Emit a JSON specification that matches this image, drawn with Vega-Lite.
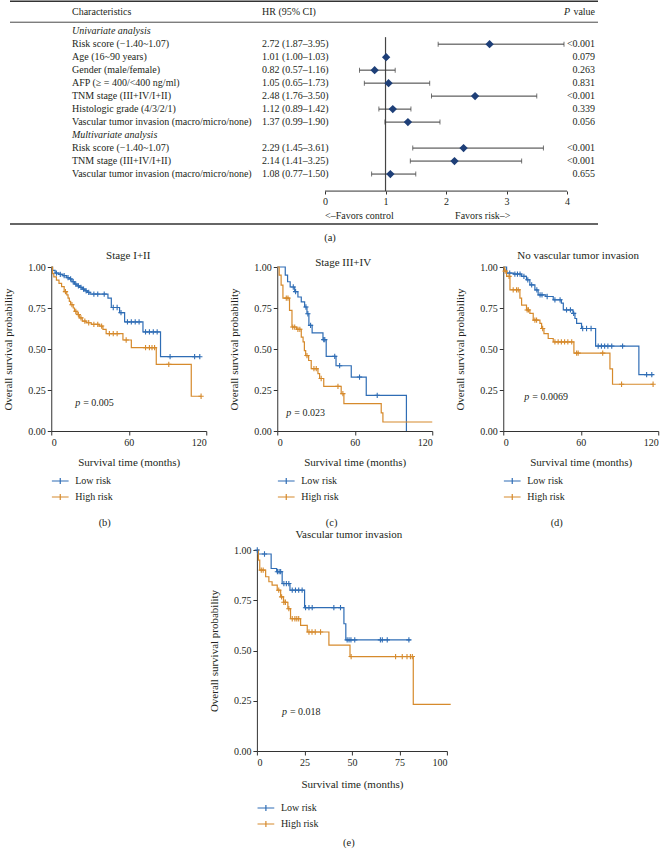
{
"$schema":"https://vega.github.io/schema/vega-lite/v6.json",
"padding":{"left":2,"top":0,"right":0,"bottom":0},
"background":"white",
"config":{"view":{"stroke":null},"font":"Liberation Serif",
"axis":{"labelFont":"Liberation Serif","titleFont":"Liberation Serif","labelFontSize":10,"titleFontSize":11,"titleFontWeight":"normal","domainColor":"#333333","tickColor":"#333333","labelColor":"#231f20","titleColor":"#231f20","grid":false,"tickSize":4,"labelPadding":2,"domainWidth":1},
"legend":{"labelFont":"Liberation Serif","labelFontSize":10,"labelColor":"#231f20"},
"title":{"font":"Liberation Serif","fontWeight":"normal","fontSize":11,"color":"#231f20"},
"text":{"font":"Liberation Serif","color":"#231f20","fontSize":10}},
"datasets":{
"forest":[
{"row":1,"label":"Univariate analysis","sec":true},
{"row":2,"label":"Risk score (−1.40~1.07)","ci":"2.72 (1.87–3.95)","hr":2.72,"lo":1.87,"hi":3.95,"p":"<0.001","sec":false},
{"row":3,"label":"Age (16~90 years)","ci":"1.01 (1.00–1.03)","hr":1.01,"lo":1.00,"hi":1.03,"p":"0.079","sec":false},
{"row":4,"label":"Gender (male/female)","ci":"0.82 (0.57–1.16)","hr":0.82,"lo":0.57,"hi":1.16,"p":"0.263","sec":false},
{"row":5,"label":"AFP (≥ = 400/<400 ng/ml)","ci":"1.05 (0.65–1.73)","hr":1.05,"lo":0.65,"hi":1.73,"p":"0.831","sec":false},
{"row":6,"label":"TNM stage (III+IV/I+II)","ci":"2.48 (1.76–3.50)","hr":2.48,"lo":1.76,"hi":3.50,"p":"<0.001","sec":false},
{"row":7,"label":"Histologic grade (4/3/2/1)","ci":"1.12 (0.89–1.42)","hr":1.12,"lo":0.89,"hi":1.42,"p":"0.339","sec":false},
{"row":8,"label":"Vascular tumor invasion (macro/micro/none)","ci":"1.37 (0.99–1.90)","hr":1.37,"lo":0.99,"hi":1.90,"p":"0.056","sec":false},
{"row":9,"label":"Multivariate analysis","sec":true},
{"row":10,"label":"Risk score (−1.40~1.07)","ci":"2.29 (1.45–3.61)","hr":2.29,"lo":1.45,"hi":3.61,"p":"<0.001","sec":false},
{"row":11,"label":"TNM stage (III+IV/I+II)","ci":"2.14 (1.41–3.25)","hr":2.14,"lo":1.41,"hi":3.25,"p":"<0.001","sec":false},
{"row":12,"label":"Vascular tumor invasion (macro/micro/none)","ci":"1.08 (0.77–1.50)","hr":1.08,"lo":0.77,"hi":1.50,"p":"0.655","sec":false}
],
"pv":[
{"panel":"b","sym":"p","val":"= 0.005","title":"Stage I+II"},
{"panel":"c","sym":"p","val":"= 0.023","title":"Stage III+IV"},
{"panel":"d","sym":"p","val":"= 0.0069","title":"No vascular tumor invasion"},
{"panel":"e","sym":"p","val":"= 0.018","title":"Vascular tumor invasion"}
],
"km":[
{"panel":"b","g":"Low risk","k":"s","t":0,"s":1},{"panel":"b","g":"Low risk","k":"s","t":1,"s":0.98},{"panel":"b","g":"Low risk","k":"s","t":3,"s":0.963},{"panel":"b","g":"Low risk","k":"s","t":6,"s":0.955},{"panel":"b","g":"Low risk","k":"s","t":9,"s":0.947},{"panel":"b","g":"Low risk","k":"s","t":12,"s":0.935},{"panel":"b","g":"Low risk","k":"s","t":14,"s":0.927},{"panel":"b","g":"Low risk","k":"s","t":16,"s":0.91},{"panel":"b","g":"Low risk","k":"s","t":18,"s":0.896},{"panel":"b","g":"Low risk","k":"s","t":20,"s":0.885},{"panel":"b","g":"Low risk","k":"s","t":22,"s":0.876},{"panel":"b","g":"Low risk","k":"s","t":24,"s":0.865},{"panel":"b","g":"Low risk","k":"s","t":26,"s":0.855},{"panel":"b","g":"Low risk","k":"s","t":28,"s":0.845},{"panel":"b","g":"Low risk","k":"s","t":30,"s":0.835},{"panel":"b","g":"Low risk","k":"s","t":43.9,"s":0.81},{"panel":"b","g":"Low risk","k":"s","t":46.5,"s":0.753},{"panel":"b","g":"Low risk","k":"s","t":52.9,"s":0.722},{"panel":"b","g":"Low risk","k":"s","t":56.8,"s":0.665},{"panel":"b","g":"Low risk","k":"s","t":71,"s":0.604},{"panel":"b","g":"Low risk","k":"s","t":84.6,"s":0.453},{"panel":"b","g":"Low risk","k":"s","t":115,"s":0.453},
{"panel":"b","g":"Low risk","k":"c","t":4,"s":0.963},{"panel":"b","g":"Low risk","k":"c","t":7,"s":0.955},{"panel":"b","g":"Low risk","k":"c","t":10,"s":0.947},{"panel":"b","g":"Low risk","k":"c","t":13,"s":0.935},{"panel":"b","g":"Low risk","k":"c","t":15,"s":0.927},{"panel":"b","g":"Low risk","k":"c","t":17,"s":0.91},{"panel":"b","g":"Low risk","k":"c","t":19,"s":0.896},{"panel":"b","g":"Low risk","k":"c","t":21,"s":0.885},{"panel":"b","g":"Low risk","k":"c","t":23,"s":0.876},{"panel":"b","g":"Low risk","k":"c","t":25,"s":0.865},{"panel":"b","g":"Low risk","k":"c","t":27,"s":0.855},{"panel":"b","g":"Low risk","k":"c","t":29,"s":0.845},{"panel":"b","g":"Low risk","k":"c","t":33,"s":0.835},{"panel":"b","g":"Low risk","k":"c","t":36,"s":0.835},{"panel":"b","g":"Low risk","k":"c","t":41,"s":0.835},{"panel":"b","g":"Low risk","k":"c","t":48,"s":0.753},{"panel":"b","g":"Low risk","k":"c","t":51,"s":0.753},{"panel":"b","g":"Low risk","k":"c","t":54,"s":0.722},{"panel":"b","g":"Low risk","k":"c","t":59,"s":0.665},{"panel":"b","g":"Low risk","k":"c","t":62,"s":0.665},{"panel":"b","g":"Low risk","k":"c","t":65,"s":0.665},{"panel":"b","g":"Low risk","k":"c","t":68,"s":0.665},{"panel":"b","g":"Low risk","k":"c","t":73,"s":0.604},{"panel":"b","g":"Low risk","k":"c","t":76,"s":0.604},{"panel":"b","g":"Low risk","k":"c","t":79,"s":0.604},{"panel":"b","g":"Low risk","k":"c","t":82,"s":0.604},{"panel":"b","g":"Low risk","k":"c","t":92,"s":0.453},{"panel":"b","g":"Low risk","k":"c","t":111,"s":0.453},{"panel":"b","g":"Low risk","k":"c","t":115,"s":0.453},
{"panel":"b","g":"High risk","k":"s","t":0,"s":1},{"panel":"b","g":"High risk","k":"s","t":1,"s":0.96},{"panel":"b","g":"High risk","k":"s","t":2,"s":0.94},{"panel":"b","g":"High risk","k":"s","t":4,"s":0.92},{"panel":"b","g":"High risk","k":"s","t":6,"s":0.9},{"panel":"b","g":"High risk","k":"s","t":8,"s":0.88},{"panel":"b","g":"High risk","k":"s","t":10,"s":0.85},{"panel":"b","g":"High risk","k":"s","t":12,"s":0.83},{"panel":"b","g":"High risk","k":"s","t":13,"s":0.81},{"panel":"b","g":"High risk","k":"s","t":14,"s":0.79},{"panel":"b","g":"High risk","k":"s","t":15,"s":0.77},{"panel":"b","g":"High risk","k":"s","t":17,"s":0.75},{"panel":"b","g":"High risk","k":"s","t":18,"s":0.73},{"panel":"b","g":"High risk","k":"s","t":20,"s":0.71},{"panel":"b","g":"High risk","k":"s","t":22,"s":0.69},{"panel":"b","g":"High risk","k":"s","t":24,"s":0.67},{"panel":"b","g":"High risk","k":"s","t":27,"s":0.66},{"panel":"b","g":"High risk","k":"s","t":31,"s":0.65},{"panel":"b","g":"High risk","k":"s","t":37,"s":0.64},{"panel":"b","g":"High risk","k":"s","t":40,"s":0.62},{"panel":"b","g":"High risk","k":"s","t":42.5,"s":0.594},{"panel":"b","g":"High risk","k":"s","t":55.5,"s":0.555},{"panel":"b","g":"High risk","k":"s","t":62,"s":0.508},{"panel":"b","g":"High risk","k":"s","t":81.3,"s":0.406},{"panel":"b","g":"High risk","k":"s","t":108.4,"s":0.212},{"panel":"b","g":"High risk","k":"s","t":116,"s":0.212},
{"panel":"b","g":"High risk","k":"c","t":11,"s":0.85},{"panel":"b","g":"High risk","k":"c","t":16,"s":0.77},{"panel":"b","g":"High risk","k":"c","t":19,"s":0.73},{"panel":"b","g":"High risk","k":"c","t":21,"s":0.71},{"panel":"b","g":"High risk","k":"c","t":23,"s":0.69},{"panel":"b","g":"High risk","k":"c","t":26,"s":0.67},{"panel":"b","g":"High risk","k":"c","t":29,"s":0.66},{"panel":"b","g":"High risk","k":"c","t":33,"s":0.65},{"panel":"b","g":"High risk","k":"c","t":36,"s":0.65},{"panel":"b","g":"High risk","k":"c","t":39,"s":0.64},{"panel":"b","g":"High risk","k":"c","t":45,"s":0.594},{"panel":"b","g":"High risk","k":"c","t":48,"s":0.594},{"panel":"b","g":"High risk","k":"c","t":51,"s":0.594},{"panel":"b","g":"High risk","k":"c","t":58,"s":0.555},{"panel":"b","g":"High risk","k":"c","t":73,"s":0.508},{"panel":"b","g":"High risk","k":"c","t":76,"s":0.508},{"panel":"b","g":"High risk","k":"c","t":78,"s":0.508},{"panel":"b","g":"High risk","k":"c","t":80,"s":0.508},{"panel":"b","g":"High risk","k":"c","t":91,"s":0.406},{"panel":"b","g":"High risk","k":"c","t":116,"s":0.212},
{"panel":"c","g":"Low risk","k":"s","t":0,"s":1},{"panel":"c","g":"Low risk","k":"s","t":6.2,"s":0.95},{"panel":"c","g":"Low risk","k":"s","t":8,"s":0.91},{"panel":"c","g":"Low risk","k":"s","t":10,"s":0.878},{"panel":"c","g":"Low risk","k":"s","t":13.5,"s":0.85},{"panel":"c","g":"Low risk","k":"s","t":16,"s":0.817},{"panel":"c","g":"Low risk","k":"s","t":18.6,"s":0.787},{"panel":"c","g":"Low risk","k":"s","t":21.2,"s":0.756},{"panel":"c","g":"Low risk","k":"s","t":23,"s":0.715},{"panel":"c","g":"Low risk","k":"s","t":24.5,"s":0.644},{"panel":"c","g":"Low risk","k":"s","t":27,"s":0.598},{"panel":"c","g":"Low risk","k":"s","t":35.4,"s":0.557},{"panel":"c","g":"Low risk","k":"s","t":37.9,"s":0.455},{"panel":"c","g":"Low risk","k":"s","t":45.5,"s":0.398},{"panel":"c","g":"Low risk","k":"s","t":57.3,"s":0.329},{"panel":"c","g":"Low risk","k":"s","t":68.9,"s":0.217},{"panel":"c","g":"Low risk","k":"s","t":100,"s":0},
{"panel":"c","g":"Low risk","k":"c","t":12.4,"s":0.878},{"panel":"c","g":"Low risk","k":"c","t":14.2,"s":0.85},{"panel":"c","g":"Low risk","k":"c","t":22.2,"s":0.756},{"panel":"c","g":"Low risk","k":"c","t":23.7,"s":0.715},{"panel":"c","g":"Low risk","k":"c","t":25.8,"s":0.644},{"panel":"c","g":"Low risk","k":"c","t":36,"s":0.557},{"panel":"c","g":"Low risk","k":"c","t":36.8,"s":0.557},{"panel":"c","g":"Low risk","k":"c","t":44.5,"s":0.455},{"panel":"c","g":"Low risk","k":"c","t":48.3,"s":0.398},{"panel":"c","g":"Low risk","k":"c","t":63.7,"s":0.329},{"panel":"c","g":"Low risk","k":"c","t":77.4,"s":0.217},
{"panel":"c","g":"High risk","k":"s","t":0,"s":1},{"panel":"c","g":"High risk","k":"s","t":1.5,"s":0.95},{"panel":"c","g":"High risk","k":"s","t":3,"s":0.89},{"panel":"c","g":"High risk","k":"s","t":4.4,"s":0.81},{"panel":"c","g":"High risk","k":"s","t":9.5,"s":0.736},{"panel":"c","g":"High risk","k":"s","t":11.4,"s":0.634},{"panel":"c","g":"High risk","k":"s","t":15,"s":0.62},{"panel":"c","g":"High risk","k":"s","t":18.6,"s":0.573},{"panel":"c","g":"High risk","k":"s","t":20,"s":0.543},{"panel":"c","g":"High risk","k":"s","t":21,"s":0.49},{"panel":"c","g":"High risk","k":"s","t":22,"s":0.46},{"panel":"c","g":"High risk","k":"s","t":24.3,"s":0.43},{"panel":"c","g":"High risk","k":"s","t":26.3,"s":0.38},{"panel":"c","g":"High risk","k":"s","t":31.5,"s":0.35},{"panel":"c","g":"High risk","k":"s","t":32.8,"s":0.32},{"panel":"c","g":"High risk","k":"s","t":36,"s":0.272},{"panel":"c","g":"High risk","k":"s","t":49.5,"s":0.228},{"panel":"c","g":"High risk","k":"s","t":51.6,"s":0.167},{"panel":"c","g":"High risk","k":"s","t":80.5,"s":0.11},{"panel":"c","g":"High risk","k":"s","t":81.8,"s":0.055},{"panel":"c","g":"High risk","k":"s","t":120,"s":0.055},
{"panel":"c","g":"High risk","k":"c","t":7,"s":0.81},{"panel":"c","g":"High risk","k":"c","t":8.3,"s":0.81},{"panel":"c","g":"High risk","k":"c","t":12,"s":0.634},{"panel":"c","g":"High risk","k":"c","t":13.5,"s":0.634},{"panel":"c","g":"High risk","k":"c","t":16,"s":0.62},{"panel":"c","g":"High risk","k":"c","t":17.5,"s":0.62},{"panel":"c","g":"High risk","k":"c","t":23,"s":0.46},{"panel":"c","g":"High risk","k":"c","t":28.4,"s":0.38},{"panel":"c","g":"High risk","k":"c","t":30.2,"s":0.38},{"panel":"c","g":"High risk","k":"c","t":34,"s":0.32},{"panel":"c","g":"High risk","k":"c","t":47,"s":0.272},{"panel":"c","g":"High risk","k":"c","t":50.8,"s":0.228},
{"panel":"d","g":"Low risk","k":"s","t":0,"s":1},{"panel":"d","g":"Low risk","k":"s","t":2.6,"s":0.963},{"panel":"d","g":"Low risk","k":"s","t":8,"s":0.957},{"panel":"d","g":"Low risk","k":"s","t":14.2,"s":0.943},{"panel":"d","g":"Low risk","k":"s","t":18,"s":0.922},{"panel":"d","g":"Low risk","k":"s","t":20.6,"s":0.891},{"panel":"d","g":"Low risk","k":"s","t":24.5,"s":0.86},{"panel":"d","g":"Low risk","k":"s","t":27,"s":0.83},{"panel":"d","g":"Low risk","k":"s","t":33,"s":0.82},{"panel":"d","g":"Low risk","k":"s","t":38.7,"s":0.8},{"panel":"d","g":"Low risk","k":"s","t":45,"s":0.78},{"panel":"d","g":"Low risk","k":"s","t":46.5,"s":0.738},{"panel":"d","g":"Low risk","k":"s","t":54,"s":0.717},{"panel":"d","g":"Low risk","k":"s","t":55.5,"s":0.686},{"panel":"d","g":"Low risk","k":"s","t":56.8,"s":0.656},{"panel":"d","g":"Low risk","k":"s","t":60.6,"s":0.625},{"panel":"d","g":"Low risk","k":"s","t":71.5,"s":0.518},{"panel":"d","g":"Low risk","k":"s","t":105,"s":0.344},{"panel":"d","g":"Low risk","k":"s","t":116,"s":0.344},
{"panel":"d","g":"Low risk","k":"c","t":5,"s":0.963},{"panel":"d","g":"Low risk","k":"c","t":9,"s":0.957},{"panel":"d","g":"Low risk","k":"c","t":11,"s":0.957},{"panel":"d","g":"Low risk","k":"c","t":13,"s":0.957},{"panel":"d","g":"Low risk","k":"c","t":16,"s":0.943},{"panel":"d","g":"Low risk","k":"c","t":19,"s":0.922},{"panel":"d","g":"Low risk","k":"c","t":22,"s":0.891},{"panel":"d","g":"Low risk","k":"c","t":26,"s":0.86},{"panel":"d","g":"Low risk","k":"c","t":28.5,"s":0.83},{"panel":"d","g":"Low risk","k":"c","t":30,"s":0.83},{"panel":"d","g":"Low risk","k":"c","t":34,"s":0.82},{"panel":"d","g":"Low risk","k":"c","t":40,"s":0.8},{"panel":"d","g":"Low risk","k":"c","t":44,"s":0.8},{"panel":"d","g":"Low risk","k":"c","t":49,"s":0.738},{"panel":"d","g":"Low risk","k":"c","t":52,"s":0.738},{"panel":"d","g":"Low risk","k":"c","t":54.5,"s":0.717},{"panel":"d","g":"Low risk","k":"c","t":61.5,"s":0.625},{"panel":"d","g":"Low risk","k":"c","t":64.5,"s":0.625},{"panel":"d","g":"Low risk","k":"c","t":68,"s":0.625},{"panel":"d","g":"Low risk","k":"c","t":73.5,"s":0.518},{"panel":"d","g":"Low risk","k":"c","t":76,"s":0.518},{"panel":"d","g":"Low risk","k":"c","t":78.5,"s":0.518},{"panel":"d","g":"Low risk","k":"c","t":81,"s":0.518},{"panel":"d","g":"Low risk","k":"c","t":84,"s":0.518},{"panel":"d","g":"Low risk","k":"c","t":92.4,"s":0.518},{"panel":"d","g":"Low risk","k":"c","t":111,"s":0.344},{"panel":"d","g":"Low risk","k":"c","t":115,"s":0.344},
{"panel":"d","g":"High risk","k":"s","t":0,"s":1},{"panel":"d","g":"High risk","k":"s","t":1,"s":0.975},{"panel":"d","g":"High risk","k":"s","t":2.6,"s":0.943},{"panel":"d","g":"High risk","k":"s","t":5.2,"s":0.861},{"panel":"d","g":"High risk","k":"s","t":12.9,"s":0.81},{"panel":"d","g":"High risk","k":"s","t":14.2,"s":0.768},{"panel":"d","g":"High risk","k":"s","t":18,"s":0.738},{"panel":"d","g":"High risk","k":"s","t":20.6,"s":0.717},{"panel":"d","g":"High risk","k":"s","t":23.2,"s":0.676},{"panel":"d","g":"High risk","k":"s","t":28.4,"s":0.656},{"panel":"d","g":"High risk","k":"s","t":29.7,"s":0.625},{"panel":"d","g":"High risk","k":"s","t":31.5,"s":0.594},{"panel":"d","g":"High risk","k":"s","t":34.8,"s":0.564},{"panel":"d","g":"High risk","k":"s","t":38.7,"s":0.543},{"panel":"d","g":"High risk","k":"s","t":54.7,"s":0.475},{"panel":"d","g":"High risk","k":"s","t":82.6,"s":0.379},{"panel":"d","g":"High risk","k":"s","t":84.6,"s":0.285},{"panel":"d","g":"High risk","k":"s","t":116,"s":0.285},
{"panel":"d","g":"High risk","k":"c","t":1.5,"s":0.975},{"panel":"d","g":"High risk","k":"c","t":4.5,"s":0.943},{"panel":"d","g":"High risk","k":"c","t":7.7,"s":0.861},{"panel":"d","g":"High risk","k":"c","t":10.3,"s":0.861},{"panel":"d","g":"High risk","k":"c","t":11.6,"s":0.861},{"panel":"d","g":"High risk","k":"c","t":18.5,"s":0.738},{"panel":"d","g":"High risk","k":"c","t":19.5,"s":0.738},{"panel":"d","g":"High risk","k":"c","t":24.5,"s":0.676},{"panel":"d","g":"High risk","k":"c","t":25.8,"s":0.676},{"panel":"d","g":"High risk","k":"c","t":30.5,"s":0.625},{"panel":"d","g":"High risk","k":"c","t":40,"s":0.543},{"panel":"d","g":"High risk","k":"c","t":42.5,"s":0.543},{"panel":"d","g":"High risk","k":"c","t":45,"s":0.543},{"panel":"d","g":"High risk","k":"c","t":47.5,"s":0.543},{"panel":"d","g":"High risk","k":"c","t":50,"s":0.543},{"panel":"d","g":"High risk","k":"c","t":53,"s":0.543},{"panel":"d","g":"High risk","k":"c","t":56.8,"s":0.475},{"panel":"d","g":"High risk","k":"c","t":58,"s":0.475},{"panel":"d","g":"High risk","k":"c","t":77,"s":0.475},{"panel":"d","g":"High risk","k":"c","t":91.6,"s":0.285},{"panel":"d","g":"High risk","k":"c","t":116,"s":0.285},
{"panel":"e","g":"Low risk","k":"s","t":0,"s":1},{"panel":"e","g":"Low risk","k":"s","t":0.5,"s":0.98},{"panel":"e","g":"Low risk","k":"s","t":7.5,"s":0.908},{"panel":"e","g":"Low risk","k":"s","t":10.4,"s":0.892},{"panel":"e","g":"Low risk","k":"s","t":13.3,"s":0.833},{"panel":"e","g":"Low risk","k":"s","t":17.4,"s":0.8},{"panel":"e","g":"Low risk","k":"s","t":25.1,"s":0.713},{"panel":"e","g":"Low risk","k":"s","t":45.8,"s":0.633},{"panel":"e","g":"Low risk","k":"s","t":46.8,"s":0.553},{"panel":"e","g":"Low risk","k":"s","t":80.9,"s":0.553},
{"panel":"e","g":"Low risk","k":"c","t":0.2,"s":1},{"panel":"e","g":"Low risk","k":"c","t":4,"s":0.98},{"panel":"e","g":"Low risk","k":"c","t":10.8,"s":0.892},{"panel":"e","g":"Low risk","k":"c","t":11.7,"s":0.892},{"panel":"e","g":"Low risk","k":"c","t":12.5,"s":0.892},{"panel":"e","g":"Low risk","k":"c","t":14.2,"s":0.833},{"panel":"e","g":"Low risk","k":"c","t":15.5,"s":0.833},{"panel":"e","g":"Low risk","k":"c","t":16.8,"s":0.833},{"panel":"e","g":"Low risk","k":"c","t":18.6,"s":0.8},{"panel":"e","g":"Low risk","k":"c","t":20.3,"s":0.8},{"panel":"e","g":"Low risk","k":"c","t":22,"s":0.8},{"panel":"e","g":"Low risk","k":"c","t":23.8,"s":0.8},{"panel":"e","g":"Low risk","k":"c","t":25.6,"s":0.713},{"panel":"e","g":"Low risk","k":"c","t":27.4,"s":0.713},{"panel":"e","g":"Low risk","k":"c","t":29.1,"s":0.713},{"panel":"e","g":"Low risk","k":"c","t":40.5,"s":0.713},{"panel":"e","g":"Low risk","k":"c","t":44,"s":0.713},{"panel":"e","g":"Low risk","k":"c","t":47.5,"s":0.553},{"panel":"e","g":"Low risk","k":"c","t":48.5,"s":0.553},{"panel":"e","g":"Low risk","k":"c","t":49.5,"s":0.553},{"panel":"e","g":"Low risk","k":"c","t":51.5,"s":0.553},{"panel":"e","g":"Low risk","k":"c","t":65,"s":0.553},{"panel":"e","g":"Low risk","k":"c","t":66,"s":0.553},{"panel":"e","g":"Low risk","k":"c","t":68.6,"s":0.553},{"panel":"e","g":"Low risk","k":"c","t":80,"s":0.553},
{"panel":"e","g":"High risk","k":"s","t":0,"s":1},{"panel":"e","g":"High risk","k":"s","t":0.8,"s":0.95},{"panel":"e","g":"High risk","k":"s","t":1.5,"s":0.9},{"panel":"e","g":"High risk","k":"s","t":4.6,"s":0.867},{"panel":"e","g":"High risk","k":"s","t":6.3,"s":0.842},{"panel":"e","g":"High risk","k":"s","t":8,"s":0.825},{"panel":"e","g":"High risk","k":"s","t":10.7,"s":0.8},{"panel":"e","g":"High risk","k":"s","t":12.5,"s":0.767},{"panel":"e","g":"High risk","k":"s","t":14,"s":0.74},{"panel":"e","g":"High risk","k":"s","t":16.3,"s":0.708},{"panel":"e","g":"High risk","k":"s","t":17.7,"s":0.658},{"panel":"e","g":"High risk","k":"s","t":23,"s":0.625},{"panel":"e","g":"High risk","k":"s","t":26.5,"s":0.592},{"panel":"e","g":"High risk","k":"s","t":37.9,"s":0.527},{"panel":"e","g":"High risk","k":"s","t":49,"s":0.47},{"panel":"e","g":"High risk","k":"s","t":82.3,"s":0.232},{"panel":"e","g":"High risk","k":"s","t":102,"s":0.232},
{"panel":"e","g":"High risk","k":"c","t":2.3,"s":0.9},{"panel":"e","g":"High risk","k":"c","t":3.3,"s":0.9},{"panel":"e","g":"High risk","k":"c","t":11.5,"s":0.8},{"panel":"e","g":"High risk","k":"c","t":13,"s":0.767},{"panel":"e","g":"High risk","k":"c","t":14.2,"s":0.74},{"panel":"e","g":"High risk","k":"c","t":15,"s":0.74},{"panel":"e","g":"High risk","k":"c","t":16.8,"s":0.708},{"panel":"e","g":"High risk","k":"c","t":18.6,"s":0.658},{"panel":"e","g":"High risk","k":"c","t":20,"s":0.658},{"panel":"e","g":"High risk","k":"c","t":21,"s":0.658},{"panel":"e","g":"High risk","k":"c","t":22,"s":0.658},{"panel":"e","g":"High risk","k":"c","t":27.4,"s":0.592},{"panel":"e","g":"High risk","k":"c","t":29,"s":0.592},{"panel":"e","g":"High risk","k":"c","t":30.7,"s":0.592},{"panel":"e","g":"High risk","k":"c","t":33.5,"s":0.592},{"panel":"e","g":"High risk","k":"c","t":49.6,"s":0.47},{"panel":"e","g":"High risk","k":"c","t":73,"s":0.47},{"panel":"e","g":"High risk","k":"c","t":76.5,"s":0.47},{"panel":"e","g":"High risk","k":"c","t":79,"s":0.47},{"panel":"e","g":"High risk","k":"c","t":80.8,"s":0.47},{"panel":"e","g":"High risk","k":"c","t":81.8,"s":0.47}
]},
"vconcat":[
{
"width":690,"height":250,
"data":{"name":"forest"},
"layer":[
{"data":{"values":[{"line":"top"}]},"mark":{"type":"rule","strokeWidth":1.5,"color":"#333333"},"encoding":{"x":{"datum":-5.207},"x2":{"datum":4.512},"y":{"datum":-1.31,"axis":null}}},
{"data":{"values":[{"line":"header"}]},"mark":{"type":"rule","strokeWidth":0.9,"color":"#333333"},"encoding":{"x":{"datum":-5.207},"x2":{"datum":4.512},"y":{"datum":0.31,"axis":null}}},
{"data":{"values":[{"line":"bottom"}]},"mark":{"type":"rule","strokeWidth":1.5,"color":"#333333"},"encoding":{"x":{"datum":-5.207},"x2":{"datum":4.512},"y":{"datum":15.85,"axis":null}}},
{"data":{"values":[{"h":"Characteristics"}]},"mark":{"type":"text","align":"left","baseline":"middle"},"encoding":{"x":{"datum":-4.182},"y":{"datum":-0.46,"axis":null},"text":{"field":"h"}}},
{"data":{"values":[{"h":"HR (95% CI)"}]},"mark":{"type":"text","align":"left","baseline":"middle"},"encoding":{"x":{"datum":-1.041},"y":{"datum":-0.46,"axis":null},"text":{"field":"h"}}},
{"data":{"values":[{"h":"value"}]},"mark":{"type":"text","align":"right","baseline":"middle"},"encoding":{"x":{"datum":4.463},"y":{"datum":-0.46,"axis":null},"text":{"field":"h"}}},
{"data":{"values":[{"h":"P"}]},"mark":{"type":"text","align":"right","baseline":"middle","fontStyle":"italic","dx":-25},"encoding":{"x":{"datum":4.463},"y":{"datum":-0.46,"axis":null},"text":{"field":"h"}}},
{"data":{"values":[{"h":"(a)"}]},"mark":{"type":"text","align":"center","baseline":"middle","fontSize":10.5},"encoding":{"x":{"datum":0.082},"y":{"datum":16.92,"axis":null},"text":{"field":"h"}}},
{"transform":[{"filter":"datum.sec"}],"mark":{"type":"text","align":"left","baseline":"middle","fontStyle":"italic"},"encoding":{"x":{"datum":-4.182},"y":{"field":"row","type":"quantitative","axis":null},"text":{"field":"label"}}},
{"transform":[{"filter":"!datum.sec"}],"mark":{"type":"text","align":"left","baseline":"middle"},"encoding":{"x":{"datum":-4.182},"y":{"field":"row","type":"quantitative","axis":null},"text":{"field":"label"}}},
{"transform":[{"filter":"!datum.sec"}],"mark":{"type":"text","align":"left","baseline":"middle"},"encoding":{"x":{"datum":-1.041},"y":{"field":"row","type":"quantitative","axis":null},"text":{"field":"ci"}}},
{"transform":[{"filter":"!datum.sec"}],"mark":{"type":"text","align":"right","baseline":"middle"},"encoding":{"x":{"datum":4.463},"y":{"field":"row","type":"quantitative","axis":null},"text":{"field":"p"}}},
{"data":{"values":[{"ref":1}]},"mark":{"type":"rule","strokeWidth":1.2,"color":"#444444"},"encoding":{"x":{"field":"ref","type":"quantitative","title":null},"y":{"datum":1.46,"axis":null},"y2":{"datum":13.31}}},
{"transform":[{"filter":"!datum.sec"}],"mark":{"type":"rule","strokeWidth":1,"color":"#3a3a3a"},"encoding":{"x":{"field":"lo","type":"quantitative","title":null},"x2":{"field":"hi"},"y":{"field":"row","type":"quantitative","axis":null}}},
{"transform":[{"filter":"!datum.sec"}],"mark":{"type":"tick","orient":"vertical","size":5,"thickness":1,"color":"#3a3a3a"},"encoding":{"x":{"field":"lo","type":"quantitative","title":null},"y":{"field":"row","type":"quantitative","axis":null}}},
{"transform":[{"filter":"!datum.sec"}],"mark":{"type":"tick","orient":"vertical","size":5,"thickness":1,"color":"#3a3a3a"},"encoding":{"x":{"field":"hi","type":"quantitative","title":null},"y":{"field":"row","type":"quantitative","axis":null}}},
{"transform":[{"filter":"!datum.sec"}],"mark":{"type":"point","shape":"diamond","filled":true,"size":70,"color":"#1e3f78","opacity":1},"encoding":{"x":{"field":"hr","type":"quantitative","title":null,"scale":{"domain":[-5.207,6.198],"nice":false,"zero":false},"axis":{"values":[0,1,2,3,4],"format":"d","domain":false,"offset":-59,"tickSize":3,"labelPadding":2,"labelFontSize":10,"title":null}},"y":{"field":"row","type":"quantitative","axis":null,"scale":{"domain":[-1.4,17.846],"reverse":true,"nice":false,"zero":false}}}},
{"data":{"values":[{"a":0,"b":4}]},"mark":{"type":"rule","strokeWidth":1,"color":"#333333"},"encoding":{"x":{"field":"a","type":"quantitative","title":null},"x2":{"field":"b"},"y":{"datum":13.31,"axis":null}}},
{"data":{"values":[{"h":"<–Favors control"}]},"mark":{"type":"text","align":"left","baseline":"middle"},"encoding":{"x":{"datum":0},"y":{"datum":15.23,"axis":null},"text":{"field":"h"}}},
{"data":{"values":[{"h":"Favors risk–>"}]},"mark":{"type":"text","align":"left","baseline":"middle"},"encoding":{"x":{"datum":2.15},"y":{"datum":15.23,"axis":null},"text":{"field":"h"}}}
]
},
{"hconcat":[
{
"width":155,"height":164,
"title":{"text":"(b)","orient":"bottom","offset":15,"fontSize":10.5,"anchor":"middle","frame":"bounds"},
"layer":[
{"data":{"name":"km"},"transform":[{"filter":"datum.panel=='b' && datum.k=='s'"}],"mark":{"type":"line","interpolate":"step-after","strokeWidth":1.2},
"encoding":{"x":{"field":"t","type":"quantitative","scale":{"domain":[0,120],"nice":false},"axis":{"values":[0,30,60,90,120],"title":"Survival time (months)","titlePadding":9}},
"y":{"field":"s","type":"quantitative","scale":{"domain":[0,1],"nice":false},"axis":{"values":[0,0.25,0.5,0.75,1],"format":".2f","title":"Overall survival probability","titlePadding":14}},
"color":{"field":"g","type":"nominal","scale":{"domain":["Low risk","High risk"],"range":["#2f6db5","#d68a2c"]},"legend":{"orient":"bottom","direction":"vertical","title":null,"symbolType":"M-1,0H1M0,-0.35V0.35","symbolSize":280,"symbolStrokeWidth":1.2,"symbolFillColor":"transparent","labelFontSize":10,"rowPadding":1,"labelOffset":6,"offset":5}}}},
{"data":{"name":"km"},"transform":[{"filter":"datum.panel=='b' && datum.k=='c'"}],"mark":{"type":"point","shape":"M-1,0H1M0,-1V1","filled":false,"size":28,"strokeWidth":1.1,"opacity":1},
"encoding":{"x":{"field":"t","type":"quantitative"},"y":{"field":"s","type":"quantitative"},"color":{"field":"g","type":"nominal","legend":{"orient":"bottom","direction":"vertical","title":null,"symbolType":"M-1,0H1M0,-0.35V0.35","symbolSize":280,"symbolStrokeWidth":1.2,"symbolFillColor":"transparent","labelFontSize":10,"rowPadding":1,"labelOffset":6,"offset":5}}}},
{"data":{"name":"pv"},"transform":[{"filter":"datum.panel=='b'"}],"mark":{"type":"text","align":"center","baseline":"middle","fontSize":11},"encoding":{"x":{"datum":59.6},"y":{"datum":1.067},"text":{"field":"title"}}},
{"data":{"name":"pv"},"transform":[{"filter":"datum.panel=='b'"}],"mark":{"type":"text","align":"left","baseline":"middle","fontStyle":"italic"},"encoding":{"x":{"datum":18.5},"y":{"datum":0.17},"text":{"field":"sym"}}},
{"data":{"name":"pv"},"transform":[{"filter":"datum.panel=='b'"}],"mark":{"type":"text","align":"left","baseline":"middle","dx":8},"encoding":{"x":{"datum":18.5},"y":{"datum":0.17},"text":{"field":"val"}}}
]},
{
"width":155,"height":164,
"title":{"text":"(c)","orient":"bottom","offset":15,"fontSize":10.5,"anchor":"middle","frame":"bounds"},
"layer":[
{"data":{"name":"km"},"transform":[{"filter":"datum.panel=='c' && datum.k=='s'"}],"mark":{"type":"line","interpolate":"step-after","strokeWidth":1.2},
"encoding":{"x":{"field":"t","type":"quantitative","scale":{"domain":[0,120],"nice":false},"axis":{"values":[0,30,60,90,120],"title":"Survival time (months)","titlePadding":9}},
"y":{"field":"s","type":"quantitative","scale":{"domain":[0,1],"nice":false},"axis":{"values":[0,0.25,0.5,0.75,1],"format":".2f","title":"Overall survival probability","titlePadding":14}},
"color":{"field":"g","type":"nominal","scale":{"domain":["Low risk","High risk"],"range":["#2f6db5","#d68a2c"]},"legend":{"orient":"bottom","direction":"vertical","title":null,"symbolType":"M-1,0H1M0,-0.35V0.35","symbolSize":280,"symbolStrokeWidth":1.2,"symbolFillColor":"transparent","labelFontSize":10,"rowPadding":1,"labelOffset":6,"offset":5}}}},
{"data":{"name":"km"},"transform":[{"filter":"datum.panel=='c' && datum.k=='c'"}],"mark":{"type":"point","shape":"M-1,0H1M0,-1V1","filled":false,"size":28,"strokeWidth":1.1,"opacity":1},
"encoding":{"x":{"field":"t","type":"quantitative"},"y":{"field":"s","type":"quantitative"},"color":{"field":"g","type":"nominal","legend":{"orient":"bottom","direction":"vertical","title":null,"symbolType":"M-1,0H1M0,-0.35V0.35","symbolSize":280,"symbolStrokeWidth":1.2,"symbolFillColor":"transparent","labelFontSize":10,"rowPadding":1,"labelOffset":6,"offset":5}}}},
{"data":{"name":"pv"},"transform":[{"filter":"datum.panel=='c'"}],"mark":{"type":"text","align":"center","baseline":"middle","fontSize":11},"encoding":{"x":{"datum":51},"y":{"datum":1.025},"text":{"field":"title"}}},
{"data":{"name":"pv"},"transform":[{"filter":"datum.panel=='c'"}],"mark":{"type":"text","align":"left","baseline":"middle","fontStyle":"italic"},"encoding":{"x":{"datum":7},"y":{"datum":0.11},"text":{"field":"sym"}}},
{"data":{"name":"pv"},"transform":[{"filter":"datum.panel=='c'"}],"mark":{"type":"text","align":"left","baseline":"middle","dx":8},"encoding":{"x":{"datum":7},"y":{"datum":0.11},"text":{"field":"val"}}}
]},
{
"width":155,"height":164,
"title":{"text":"(d)","orient":"bottom","offset":15,"fontSize":10.5,"anchor":"middle","frame":"bounds"},
"layer":[
{"data":{"name":"km"},"transform":[{"filter":"datum.panel=='d' && datum.k=='s'"}],"mark":{"type":"line","interpolate":"step-after","strokeWidth":1.2},
"encoding":{"x":{"field":"t","type":"quantitative","scale":{"domain":[0,120],"nice":false},"axis":{"values":[0,30,60,90,120],"title":"Survival time (months)","titlePadding":9}},
"y":{"field":"s","type":"quantitative","scale":{"domain":[0,1],"nice":false},"axis":{"values":[0,0.25,0.5,0.75,1],"format":".2f","title":"Overall survival probability","titlePadding":14}},
"color":{"field":"g","type":"nominal","scale":{"domain":["Low risk","High risk"],"range":["#2f6db5","#d68a2c"]},"legend":{"orient":"bottom","direction":"vertical","title":null,"symbolType":"M-1,0H1M0,-0.35V0.35","symbolSize":280,"symbolStrokeWidth":1.2,"symbolFillColor":"transparent","labelFontSize":10,"rowPadding":1,"labelOffset":6,"offset":5}}}},
{"data":{"name":"km"},"transform":[{"filter":"datum.panel=='d' && datum.k=='c'"}],"mark":{"type":"point","shape":"M-1,0H1M0,-1V1","filled":false,"size":28,"strokeWidth":1.1,"opacity":1},
"encoding":{"x":{"field":"t","type":"quantitative"},"y":{"field":"s","type":"quantitative"},"color":{"field":"g","type":"nominal","legend":{"orient":"bottom","direction":"vertical","title":null,"symbolType":"M-1,0H1M0,-0.35V0.35","symbolSize":280,"symbolStrokeWidth":1.2,"symbolFillColor":"transparent","labelFontSize":10,"rowPadding":1,"labelOffset":6,"offset":5}}}},
{"data":{"name":"pv"},"transform":[{"filter":"datum.panel=='d'"}],"mark":{"type":"text","align":"center","baseline":"middle","fontSize":11},"encoding":{"x":{"datum":58},"y":{"datum":1.07},"text":{"field":"title"}}},
{"data":{"name":"pv"},"transform":[{"filter":"datum.panel=='d'"}],"mark":{"type":"text","align":"left","baseline":"middle","fontStyle":"italic"},"encoding":{"x":{"datum":16.3},"y":{"datum":0.21},"text":{"field":"sym"}}},
{"data":{"name":"pv"},"transform":[{"filter":"datum.panel=='d'"}],"mark":{"type":"text","align":"left","baseline":"middle","dx":8},"encoding":{"x":{"datum":16.3},"y":{"datum":0.21},"text":{"field":"val"}}}
]}
],"spacing":71,"bounds":"flush","resolve":{"scale":{"color":"independent"},"legend":{"color":"independent"}}},
{
"width":190,"height":201,
"title":{"text":"(e)","orient":"bottom","offset":8,"fontSize":10.5,"anchor":"middle","frame":"group","dx":-3},
"layer":[
{"data":{"name":"km"},"transform":[{"filter":"datum.panel=='e' && datum.k=='s'"}],"mark":{"type":"line","interpolate":"step-after","strokeWidth":1.2},
"encoding":{"x":{"field":"t","type":"quantitative","scale":{"domain":[0,100],"nice":false},"axis":{"values":[0,25,50,75,100],"title":"Survival time (months)","titlePadding":11.5}},
"y":{"field":"s","type":"quantitative","scale":{"domain":[0,1],"nice":false},"axis":{"values":[0,0.25,0.5,0.75,1],"format":".2f","title":"Overall survival probability","titlePadding":14}},
"color":{"field":"g","type":"nominal","scale":{"domain":["Low risk","High risk"],"range":["#2f6db5","#d68a2c"]},"legend":{"orient":"bottom","direction":"vertical","title":null,"symbolType":"M-1,0H1M0,-0.35V0.35","symbolSize":280,"symbolStrokeWidth":1.2,"symbolFillColor":"transparent","labelFontSize":10,"rowPadding":1,"labelOffset":6,"offset":9}}}},
{"data":{"name":"km"},"transform":[{"filter":"datum.panel=='e' && datum.k=='c'"}],"mark":{"type":"point","shape":"M-1,0H1M0,-1V1","filled":false,"size":28,"strokeWidth":1.1,"opacity":1},
"encoding":{"x":{"field":"t","type":"quantitative"},"y":{"field":"s","type":"quantitative"},"color":{"field":"g","type":"nominal","legend":{"orient":"bottom","direction":"vertical","title":null,"symbolType":"M-1,0H1M0,-0.35V0.35","symbolSize":280,"symbolStrokeWidth":1.2,"symbolFillColor":"transparent","labelFontSize":10,"rowPadding":1,"labelOffset":6,"offset":9}}}},
{"data":{"name":"pv"},"transform":[{"filter":"datum.panel=='e'"}],"mark":{"type":"text","align":"center","baseline":"middle","fontSize":11},"encoding":{"x":{"datum":48.4},"y":{"datum":1.075},"text":{"field":"title"}}},
{"data":{"name":"pv"},"transform":[{"filter":"datum.panel=='e'"}],"mark":{"type":"text","align":"left","baseline":"middle","fontStyle":"italic"},"encoding":{"x":{"datum":13.2},"y":{"datum":0.195},"text":{"field":"sym"}}},
{"data":{"name":"pv"},"transform":[{"filter":"datum.panel=='e'"}],"mark":{"type":"text","align":"left","baseline":"middle","dx":8},"encoding":{"x":{"datum":13.2},"y":{"datum":0.195},"text":{"field":"val"}}}
]}
],
"spacing":-1,"center":true,
"resolve":{"scale":{"color":"independent"},"legend":{"color":"independent"}}
}
